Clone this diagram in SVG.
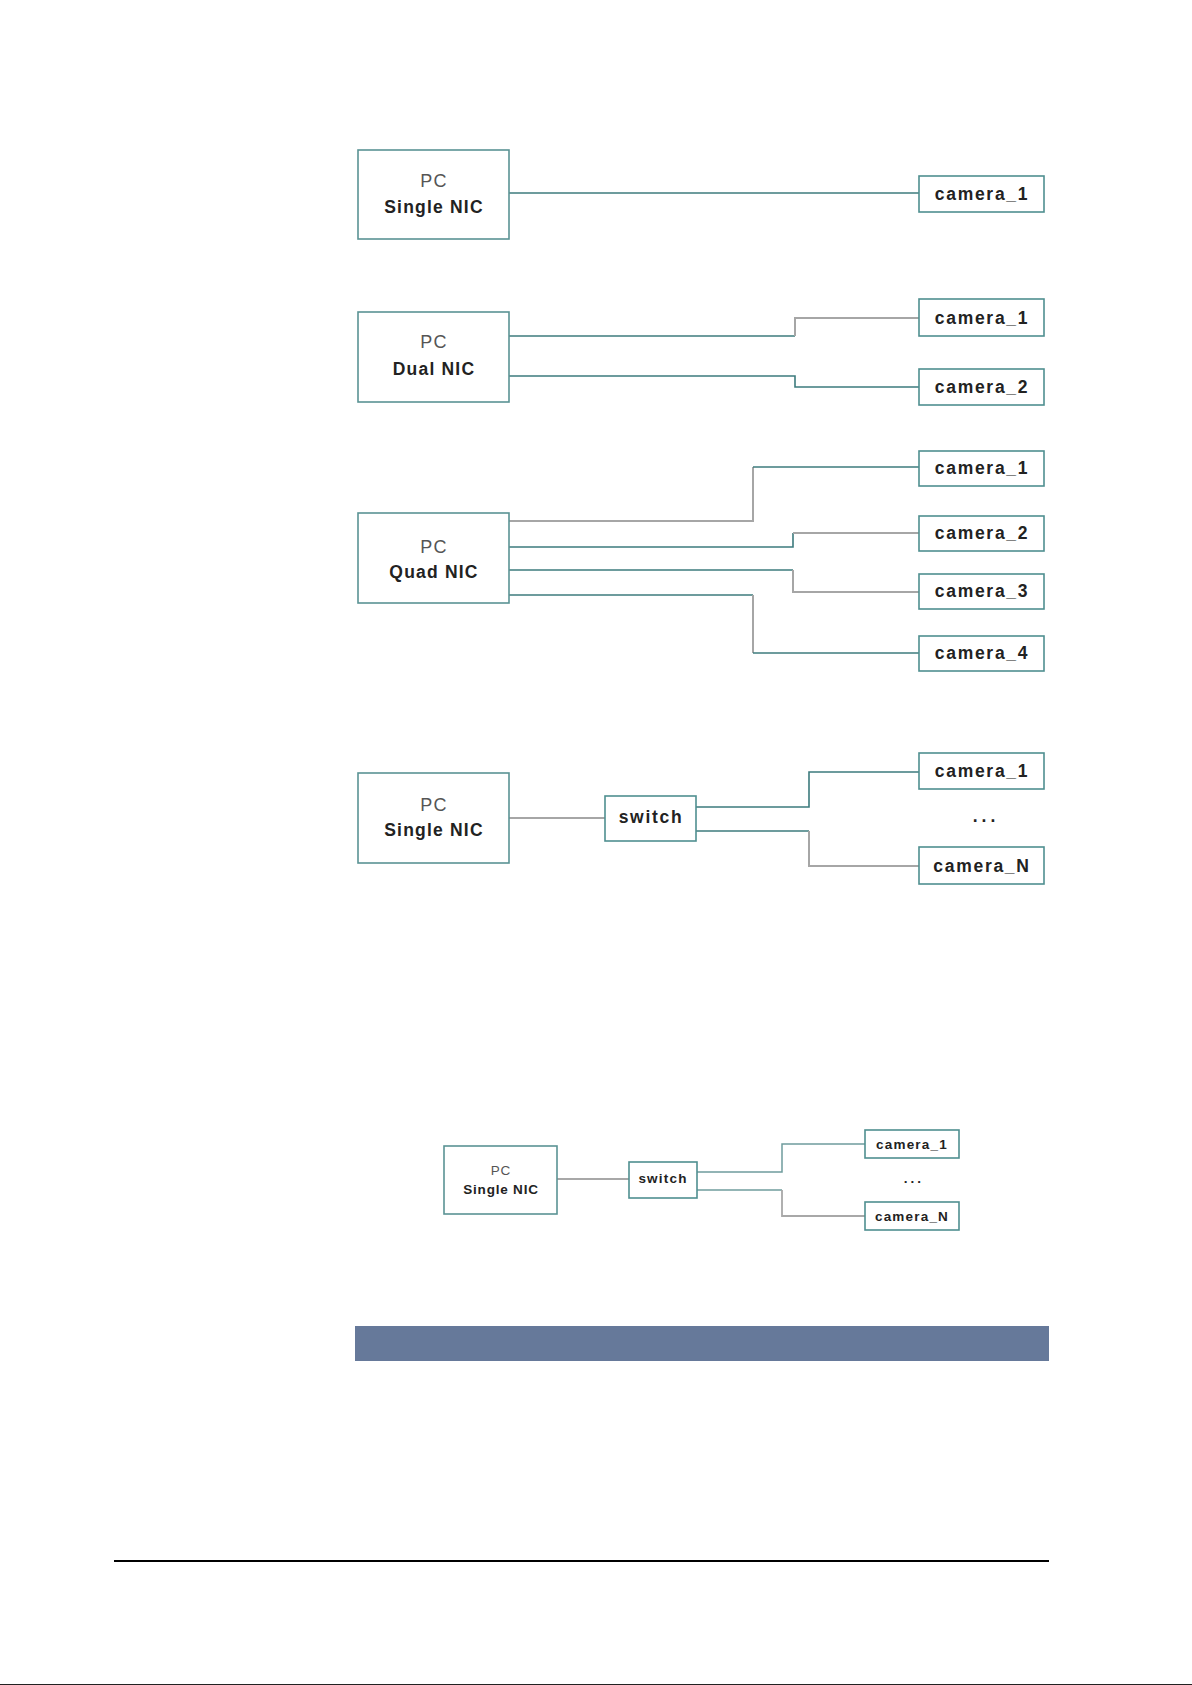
<svg xmlns="http://www.w3.org/2000/svg" width="1192" height="1685" viewBox="0 0 1192 1685">
<style>
.box{fill:#fff;stroke:#4f8f90;stroke-width:1.6}
.pcb{fill:#fff;stroke:#5a9394;stroke-width:1.6}
.pc{font-family:"Liberation Sans",Arial,sans-serif;font-size:18px;fill:#555;text-anchor:middle;letter-spacing:1.2px}
.nic{font-family:"Liberation Sans",Arial,sans-serif;font-size:17.5px;font-weight:bold;fill:#222;text-anchor:middle;letter-spacing:1.2px}
.cam{font-family:"Liberation Sans",Arial,sans-serif;font-size:17.5px;font-weight:bold;fill:#222;text-anchor:middle;letter-spacing:1.7px}
.pcs{font-family:"Liberation Sans",Arial,sans-serif;font-size:13.5px;fill:#555;text-anchor:middle;letter-spacing:0.8px}
.nics{font-family:"Liberation Sans",Arial,sans-serif;font-size:13.5px;font-weight:bold;fill:#222;text-anchor:middle;letter-spacing:0.8px}
.cams{font-family:"Liberation Sans",Arial,sans-serif;font-size:13.5px;font-weight:bold;fill:#222;text-anchor:middle;letter-spacing:1.2px}
.t{fill:none;stroke:#3c7b7d;stroke-width:1.6}
.g{fill:none;stroke:#a6a6a6;stroke-width:2}
.ts{fill:none;stroke:#6f9c9d;stroke-width:1.5}
.gs{fill:none;stroke:#a8a8a8;stroke-width:1.8}
</style>

<g id="connectors">
  <path class="t" d="M509,193 H919"/>
  <path class="t" d="M509,336 H795"/>
  <path class="g" d="M795,336 V318 H919"/>
  <path class="t" d="M509,376 H795 V387 H919"/>
  <path class="g" d="M509,521 H753 V467"/>
  <path class="t" d="M753,467 H919"/>
  <path class="t" d="M509,547 H793 V533"/>
  <path class="g" d="M793,533 H919"/>
  <path class="t" d="M509,570 H793"/>
  <path class="g" d="M793,570 V592 H919"/>
  <path class="t" d="M509,595 H753"/>
  <path class="g" d="M753,595 V653"/>
  <path class="t" d="M753,653 H919"/>
  <path class="g" d="M509,818 H605"/>
  <path class="t" d="M696,807 H809 V772 H919"/>
  <path class="t" d="M696,831 H809"/>
  <path class="g" d="M809,831 V866 H919"/>
  <path class="gs" d="M557,1179 H629"/>
  <path class="ts" d="M697,1172 H782 V1144 H865"/>
  <path class="ts" d="M697,1190 H782"/>
  <path class="gs" d="M782,1190 V1216 H865"/>
</g>

<g id="pc1"><rect class="pcb" x="358" y="150" width="151" height="89"/><text class="pc" x="434" y="187">PC</text><text class="nic" x="434" y="213">Single NIC</text></g>
<g id="s1cam1"><rect class="box" x="919" y="176" width="125" height="36"/><text class="cam" x="982" y="200">camera_1</text></g>

<g id="pc2"><rect class="pcb" x="358" y="312" width="151" height="90"/><text class="pc" x="434" y="348">PC</text><text class="nic" x="434" y="375">Dual NIC</text></g>
<g id="s2cam1"><rect class="box" x="919" y="299" width="125" height="37"/><text class="cam" x="982" y="324">camera_1</text></g>
<g id="s2cam2"><rect class="box" x="919" y="369" width="125" height="36"/><text class="cam" x="982" y="393">camera_2</text></g>

<g id="pc3"><rect class="pcb" x="358" y="513" width="151" height="90"/><text class="pc" x="434" y="553">PC</text><text class="nic" x="434" y="578">Quad NIC</text></g>
<g id="s3cam1"><rect class="box" x="919" y="451" width="125" height="35"/><text class="cam" x="982" y="474">camera_1</text></g>
<g id="s3cam2"><rect class="box" x="919" y="516" width="125" height="35"/><text class="cam" x="982" y="539">camera_2</text></g>
<g id="s3cam3"><rect class="box" x="919" y="574" width="125" height="35"/><text class="cam" x="982" y="597">camera_3</text></g>
<g id="s3cam4"><rect class="box" x="919" y="636" width="125" height="35"/><text class="cam" x="982" y="659">camera_4</text></g>

<g id="pc4"><rect class="pcb" x="358" y="773" width="151" height="90"/><text class="pc" x="434" y="811">PC</text><text class="nic" x="434" y="836">Single NIC</text></g>
<g id="switch4"><rect class="box" x="605" y="796" width="91" height="45"/><text class="cam" x="651" y="823">switch</text></g>
<g id="s4cam1"><rect class="box" x="919" y="753" width="125" height="36"/><text class="cam" x="982" y="777">camera_1</text></g>
<g id="s4dots"><text class="cam" x="986" y="822" style="letter-spacing:4px">...</text></g>
<g id="s4camN"><rect class="box" x="919" y="847" width="125" height="37"/><text class="cam" x="982" y="872">camera_N</text></g>

<g id="pc5"><rect class="pcb" x="444" y="1146" width="113" height="68"/><text class="pcs" x="501" y="1175">PC</text><text class="nics" x="501" y="1194">Single NIC</text></g>
<g id="switch5"><rect class="box" x="629" y="1162" width="68" height="36"/><text class="cams" x="663" y="1183">switch</text></g>
<g id="s5cam1"><rect class="box" x="865" y="1130" width="94" height="28"/><text class="cams" x="912" y="1149">camera_1</text></g>
<g id="s5dots"><text class="cams" x="914" y="1183" style="letter-spacing:3px">...</text></g>
<g id="s5camN"><rect class="box" x="865" y="1202" width="94" height="28"/><text class="cams" x="912" y="1221">camera_N</text></g>

<rect id="bar" x="355" y="1326" width="694" height="35" fill="#66799a"/>
<line x1="114" y1="1561" x2="1049" y2="1561" stroke="#000" stroke-width="2"/>
<rect x="0" y="1684" width="1192" height="1" fill="#222"/>
</svg>
